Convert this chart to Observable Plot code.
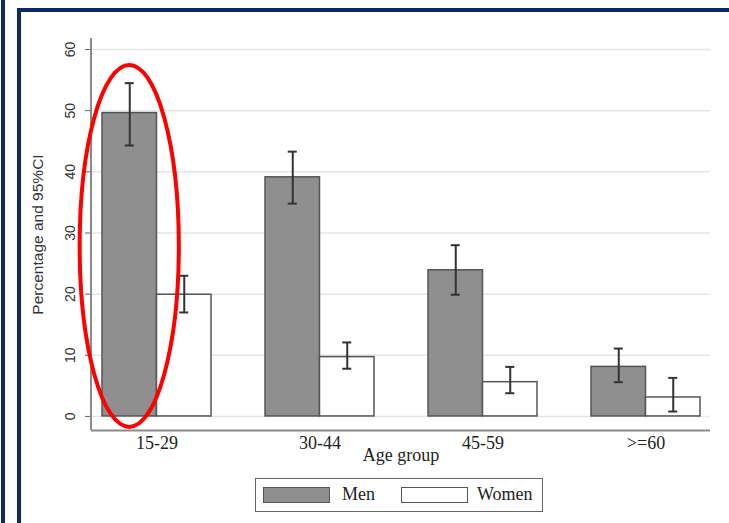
<!DOCTYPE html>
<html>
<head>
<meta charset="utf-8">
<script src="https://cdn.jsdelivr.net/npm/d3@7"></script>
<script src="https://cdn.jsdelivr.net/npm/@observablehq/plot@0.6"></script>
<style>
  html, body { margin: 0; padding: 0; background: #fff; }
  #wrap { position: relative; width: 729px; height: 523px; overflow: hidden; background: #fff; }
  #chart { position: absolute; left: 0; top: 0; }
  .navy1 { position: absolute; left: 1px; top: 0; width: 4px; height: 523px; background: #0b2a6c; }
  .navy2 { position: absolute; left: 17px; top: 8px; width: 712px; height: 515px; border-left: 4px solid #0b2a6c; border-top: 4px solid #0b2a6c; box-sizing: border-box; }
  #legend { position: absolute; left: 255px; top: 478px; width: 288px; height: 34px; box-sizing: border-box;
            border: 1.5px solid #666; font-family: "Liberation Serif", "Times New Roman", serif; font-size: 18px; color: #222; }
  .sw { position: absolute; top: 8px; width: 67px; height: 16px; box-sizing: border-box; border: 1.5px solid #555; }
  .lab { position: absolute; top: 5px; line-height: 20px; }
</style>
</head>
<body>
<div id="wrap">
  <div id="chart"></div>
  <div class="navy1"></div>
  <div class="navy2"></div>
  <div id="legend"></div>
</div>
<script>
// ---- Data ----
const ageGroups = ["15-29", "30-44", "45-59", ">=60"];
const sexes = ["Men", "Women"];
const menPct   = [49.6, 39.1, 23.9, 8.1];
const menLo    = [44.3, 34.8, 19.9, 5.6];
const menHi    = [54.5, 43.3, 28.0, 11.1];
const womenPct = [19.9, 9.7, 5.6, 3.1];
const womenLo  = [17.0, 7.8, 3.8, 0.8];
const womenHi  = [23.0, 12.1, 8.1, 6.3];
const yTicks = [0, 10, 20, 30, 40, 50, 60];
const highlightGroup = "15-29";
const highlightYTop = 57.4;
const highlightYBottom = -1.8;

// ---- Build table ----
const rows = [];
ageGroups.forEach((a, i) => {
  rows.push({age: a, sex: "Men", pct: menPct[i], lo: menLo[i], hi: menHi[i]});
  rows.push({age: a, sex: "Women", pct: womenPct[i], lo: womenLo[i], hi: womenHi[i]});
});
const men = rows.filter(d => d.sex === "Men");
const women = rows.filter(d => d.sex === "Women");

// ---- Layout ----
const W = 729, H = 470;
const mL = 91, mR = 19, mT = 38, mB = 40;
const padIn = 1/3, padOut = 0.06;
const step = (W - mL - mR) / (ageGroups.length - padIn + 2 * padOut);
const half = step * (1 - padIn) / 2;      // width of one bar
const capW = 9;
const capInset = (half - capW) / 2;

const yDomain = [-2.3, 61.8];
const barStroke = "#555";
const errColor = "#333";
const serif = "'Liberation Serif', 'Times New Roman', serif";
const sans = "'Liberation Sans', Arial, sans-serif";

const plot = Plot.plot({
  width: W, height: H,
  marginLeft: mL, marginRight: mR, marginTop: mT, marginBottom: mB,
  style: {background: "transparent", overflow: "visible"},
  x: {domain: ageGroups, paddingInner: padIn, paddingOuter: padOut, label: null},
  y: {domain: yDomain, label: null},
  marks: [
    Plot.gridY(yTicks, {stroke: "#e6e6e6", strokeOpacity: 1, strokeWidth: 1.5}),
    Plot.axisY(yTicks, {
      tickSize: 6, tickPadding: 11, tickRotate: -90, stroke: "#666",
      fontSize: 14, fill: "#333", fontFamily: sans, label: null
    }),
    Plot.axisX({
      tickSize: 0, tickPadding: 6, fontSize: 18, fill: "#222",
      fontFamily: serif, label: null
    }),
    Plot.ruleY([yDomain[0]], {stroke: "#8a8a8a", strokeWidth: 2}),
    Plot.barY(men, {x: "age", y: "pct", fill: "#8f8f8f", stroke: barStroke, strokeWidth: 1.5, insetRight: half}),
    Plot.barY(women, {x: "age", y: "pct", fill: "#fff", stroke: barStroke, strokeWidth: 1.5, insetLeft: half}),
    Plot.ruleX(men, {x: "age", y1: "lo", y2: "hi", dx: -half / 2, stroke: errColor, strokeWidth: 2}),
    Plot.ruleX(women, {x: "age", y1: "lo", y2: "hi", dx: half / 2, stroke: errColor, strokeWidth: 2}),
    Plot.tickY(men, {x: "age", y: "hi", insetLeft: capInset, insetRight: half + capInset, stroke: errColor, strokeWidth: 2}),
    Plot.tickY(men, {x: "age", y: "lo", insetLeft: capInset, insetRight: half + capInset, stroke: errColor, strokeWidth: 2}),
    Plot.tickY(women, {x: "age", y: "hi", insetLeft: half + capInset, insetRight: capInset, stroke: errColor, strokeWidth: 2}),
    Plot.tickY(women, {x: "age", y: "lo", insetLeft: half + capInset, insetRight: capInset, stroke: errColor, strokeWidth: 2}),
    Plot.text(["Percentage and 95%CI"], {
      frameAnchor: "left", rotate: -90, dx: -53, fontSize: 15.5, fill: "#333",
      fontFamily: sans, textAnchor: "middle"
    }),
    Plot.text(["Age group"], {
      frameAnchor: "bottom", dy: 25, fontSize: 18, fill: "#222", fontFamily: serif, lineAnchor: "middle"
    })
  ]
});

document.getElementById("chart").appendChild(plot);

// Left axis line and highlight ellipse, positioned through the plot's scales
const xs = plot.scale("x");
const ys = plot.scale("y");
const svg = d3.select(plot);
svg.append("line")
  .attr("x1", mL).attr("x2", mL)
  .attr("y1", ys.apply(yDomain[1])).attr("y2", ys.apply(yDomain[0]))
  .attr("stroke", "#8a8a8a").attr("stroke-width", 2);

const bw = xs.bandwidth;
const cx = xs.apply(highlightGroup) + bw / 4;
const yT = ys.apply(highlightYTop), yB = ys.apply(highlightYBottom);
svg.append("ellipse")
  .attr("cx", cx).attr("cy", (yT + yB) / 2)
  .attr("rx", bw * 0.455).attr("ry", (yB - yT) / 2)
  .attr("fill", "none").attr("stroke", "#f00").attr("stroke-width", 4);

// Legend
const legend = d3.select("#legend");
const legendFill = {Men: "#8f8f8f", Women: "#fff"};
const swX = [7, 145], labX = [86, 221];
sexes.forEach((s, i) => {
  legend.append("div").attr("class", "sw")
    .style("left", swX[i] + "px").style("background", legendFill[s]);
  legend.append("div").attr("class", "lab")
    .style("left", labX[i] + "px").text(s);
});
</script>
</body>
</html>
